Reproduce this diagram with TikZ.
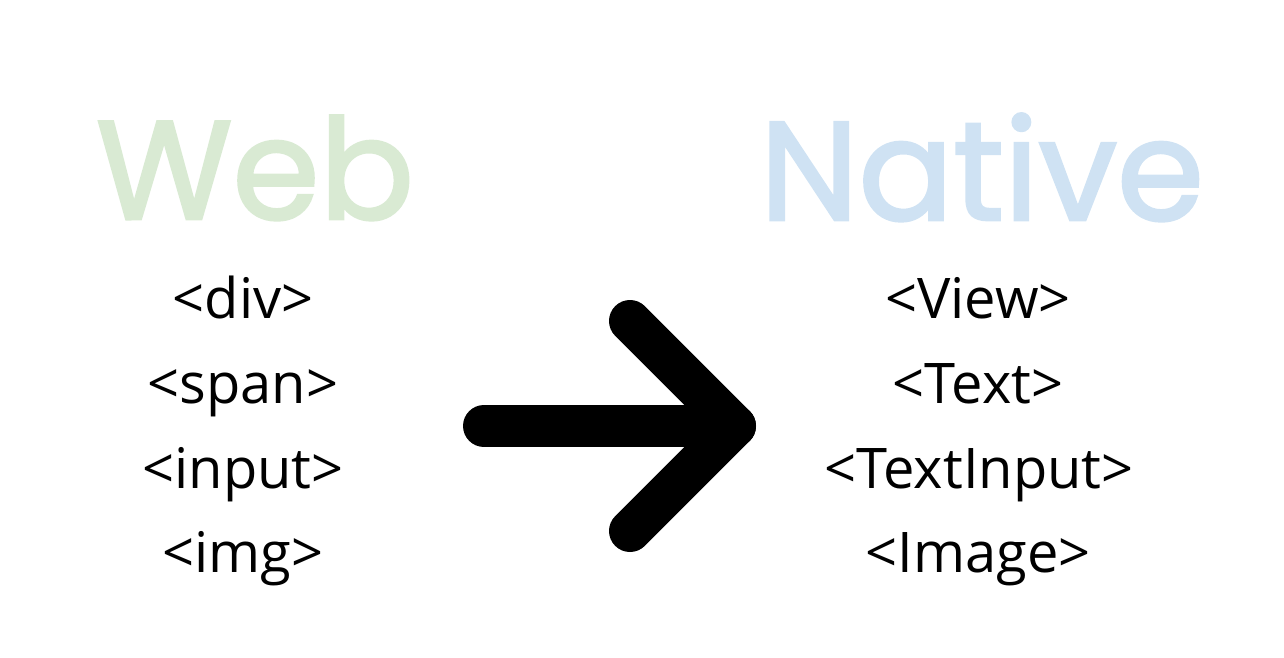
\documentclass[tikz,border=0pt]{standalone}
\usepackage{fontspec}
\setmainfont{Open Sans}
\newfontfamily\headfont{Poppins}[FakeBold=2]
\definecolor{webgreen}{HTML}{D9EAD3}
\definecolor{nativeblue}{HTML}{CFE2F3}
\begin{document}
\begin{tikzpicture}[x=1pt,y=-1pt,
  head/.style={font=\headfont\fontsize{140}{140}\selectfont, anchor=base, inner sep=0pt},
  tag/.style={font=\fontsize{56}{56}\selectfont, anchor=base, inner sep=0pt},
  bigarrow/.style={line width=42pt, line cap=round, line join=round, black}]
\useasboundingbox (0,0) rectangle (1284,658);
\node[head, text=webgreen] (web) at (255,219) {Web};
\node[head, text=nativeblue] (native) at (982,220) {Native};
\node[tag] (div) at (243,318) {<div>};
\node[tag] (span) at (243,403) {<span>};
\node[tag] (input) at (243,488) {<input>};
\node[tag] (img) at (243,572) {<img>};
\node[tag] (view) at (978,318) {<View>};
\node[tag] (text) at (978,403) {<Text>};
\node[tag] (textinput) at (979,488) {<TextInput>};
\node[tag] (image) at (978,572) {<Image>};
\coordinate (tail) at (484,426);
\coordinate (tip) at (735,426);
\coordinate (armtop) at (630,321);
\coordinate (armbot) at (630,531);
\draw[bigarrow] (tail) -- (tip);
\draw[bigarrow] (armtop) -- (tip) -- (armbot);
\end{tikzpicture}
\end{document}
